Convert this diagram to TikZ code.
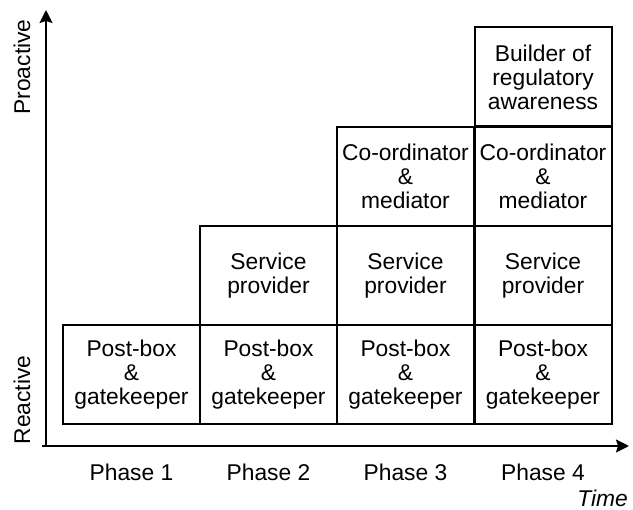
\documentclass[tikz,border=0pt]{standalone}
\usepackage{fontspec}
\setmainfont{Liberation Sans}
\usetikzlibrary{arrows.meta}
\begin{document}
\begin{tikzpicture}[x=1pt,y=-1pt,
  cell/.style={draw,line width=2pt,minimum width=137pt,minimum height=99pt,inner sep=0pt,align=center,font=\fontsize{22.8}{24}\selectfont},
  lbl/.style={font=\fontsize{22.8}{24}\selectfont,inner sep=0pt},
  axis/.style={line width=2pt,-{Stealth[length=13pt,width=13pt,inset=2pt]}}]
\useasboundingbox (0,0) rectangle (633,510);
\coordinate (o) at (46,446);
\coordinate (ox) at (42,446);
\coordinate (ytip) at (46,10);
\coordinate (xtip) at (629,446);
\draw[axis] (o) -- (ytip);
\draw[axis] (ox) -- (xtip);
\node[cell] (a1) at (131.5,374.5) {Post-box\\\&\\gatekeeper};
\node[cell] (b1) at (268.5,374.5) {Post-box\\\&\\gatekeeper};
\node[cell] (c1) at (405.5,374.5) {Post-box\\\&\\gatekeeper};
\node[cell] (d1) at (543,374.5) {Post-box\\\&\\gatekeeper};
\node[cell] (b2) at (268.5,275.5) {Service\\provider};
\node[cell] (c2) at (405.5,275.5) {Service\\provider};
\node[cell] (d2) at (543,275.5) {Service\\provider};
\node[cell] (c3) at (405.5,176.5) {Co-ordinator\\\&\\mediator};
\node[cell] (d3) at (543,176.5) {Co-ordinator\\\&\\mediator};
\node[cell] (d4) at (543,77) {Builder of\\regulatory\\awareness};
\node[lbl] (p1) at (131.5,472) {Phase 1};
\node[lbl] (p2) at (268.5,472) {Phase 2};
\node[lbl] (p3) at (405.5,472) {Phase 3};
\node[lbl] (p4) at (543,472) {Phase 4};
\node[lbl,anchor=east] (t) at (628,498) {\itshape Time};
\node[lbl,rotate=90] (pro) at (22,67) {Proactive};
\node[lbl,rotate=90] (rea) at (22,400) {Reactive};
\end{tikzpicture}
\end{document}
